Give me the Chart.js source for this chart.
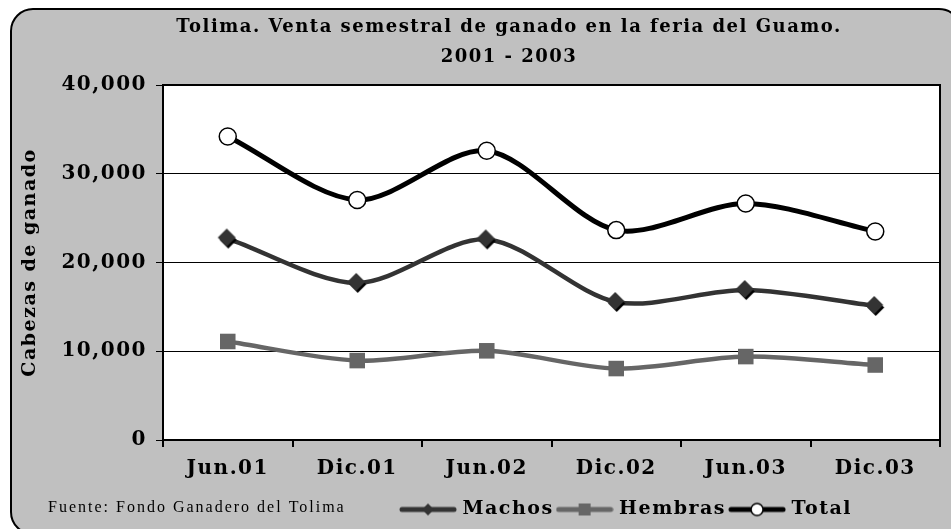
<!DOCTYPE html>
<html>
<head>
<meta charset="utf-8">
<script src="https://cdn.jsdelivr.net/npm/chart.js@4"></script>
<style>
  html, body { margin: 0; padding: 0; background: #fff; }
  #wrap { width: 951px; height: 529px; }
</style>
</head>
<body>
<div id="wrap"><canvas id="grafica"></canvas></div>
<script>
// Datos
const periodos = ['Jun.01', 'Dic.01', 'Jun.02', 'Dic.02', 'Jun.03', 'Dic.03'];
const machos = [22700, 17700, 22600, 15550, 16900, 15100];
const hembras = [11100, 8950, 10050, 8050, 9400, 8450];
const total = [34200, 27050, 32600, 23650, 26650, 23500];
const tituloLineas = ['Tolima. Venta semestral de ganado en la feria del Guamo.', '2001 - 2003'];
const fuente = 'Fuente: Fondo Ganadero del Tolima';

const serif = "'DejaVu Serif', serif";

// Rombo con sombra negra (marcador de Machos)
const rombo = (() => {
  const c = document.createElement('canvas');
  c.width = 24; c.height = 24;
  const g = c.getContext('2d');
  const dibuja = (cx, cy, r, color) => {
    g.fillStyle = color;
    g.beginPath(); g.moveTo(cx, cy - r); g.lineTo(cx + r, cy); g.lineTo(cx, cy + r); g.lineTo(cx - r, cy); g.closePath(); g.fill();
  };
  dibuja(12.5, 13.5, 8.5, '#000000');
  dibuja(11, 11, 9, '#333333');
  return c;
})();

// Muestra de leyenda: linea con marcador
const muestra = (color, ancho, marcador) => {
  const c = document.createElement('canvas');
  c.width = 58; c.height = 20;
  const g = c.getContext('2d');
  g.strokeStyle = color; g.lineWidth = ancho; g.lineCap = 'round';
  g.beginPath(); g.moveTo(3, 10); g.lineTo(55, 10); g.stroke();
  marcador(g);
  return c;
};

const legMachos = muestra('#333333', 5, (g) => {
  g.fillStyle = '#333333';
  g.beginPath(); g.moveTo(29, 4); g.lineTo(35, 10); g.lineTo(29, 16); g.lineTo(23, 10); g.closePath(); g.fill();
});
const legHembras = muestra('#666666', 5, (g) => {
  g.fillStyle = '#666666';
  g.fillRect(23, 4, 12, 12);
});
const legTotal = muestra('#000000', 5, (g) => {
  g.fillStyle = '#ffffff'; g.strokeStyle = '#000'; g.lineWidth = 1.5;
  g.beginPath(); g.arc(29, 10, 6, 0, Math.PI * 2); g.fill(); g.stroke();
});

// Espaciado entre letras como en la original
const espaciar = (chart) => { chart.ctx.letterSpacing = '1.5px'; };

// Fondo con borde redondeado, marco del area y texto de fuente
const marco = {
  id: 'marco',
  afterInit: espaciar,
  beforeUpdate: espaciar,
  beforeDraw(chart) {
    espaciar(chart);
    const ctx = chart.ctx;
    ctx.save();
    ctx.fillStyle = '#ffffff';
    ctx.fillRect(0, 0, chart.width, chart.height);
    ctx.beginPath();
    ctx.roundRect(11, 9, 950, 525, 22);
    ctx.fillStyle = '#c0c0c0';
    ctx.fill();
    ctx.lineWidth = 2;
    ctx.strokeStyle = '#000';
    ctx.stroke();
    const a = chart.chartArea;
    ctx.fillStyle = '#ffffff';
    ctx.fillRect(a.left, a.top, a.right - a.left, a.bottom - a.top);
    ctx.restore();
  },
  afterDatasetsDraw(chart) {
    const ctx = chart.ctx;
    const a = chart.chartArea;
    ctx.save();
    ctx.strokeStyle = '#000';
    ctx.lineWidth = 2;
    ctx.beginPath();
    ctx.moveTo(a.left, a.top); ctx.lineTo(a.right, a.top); ctx.lineTo(a.right, a.bottom);
    ctx.stroke();
    ctx.restore();
  },
  afterDraw(chart) {
    const ctx = chart.ctx;
    ctx.save();
    ctx.font = "16px 'Liberation Serif', serif";
    ctx.letterSpacing = '2px';
    ctx.fillStyle = '#000';
    ctx.textBaseline = 'middle';
    ctx.fillText(fuente, 48, 508);
    ctx.restore();
  },
  afterLayout(chart) {
    // la leyenda y el titulo no estan centrados en la original
    const lg = chart.legend;
    const w = lg.right - lg.left;
    lg.left = 397;
    lg.right = 397 + w;
    chart.titleBlock.left += 33;
    chart.titleBlock.right += 33;
  }
};

const config = {
  type: 'line',
  data: {
    labels: periodos,
    datasets: [
      {
        label: 'Machos',
        data: machos,
        borderColor: '#333333',
        backgroundColor: '#333333',
        borderWidth: 4.5,
        pointStyle: rombo,
        pointRadius: 9,
        pointBorderWidth: 0,
        tension: 0.3,
        legendImg: legMachos
      },
      {
        label: 'Hembras',
        data: hembras,
        borderColor: '#666666',
        backgroundColor: '#666666',
        borderWidth: 4.5,
        pointStyle: 'rect',
        pointRadius: 11,
        pointBorderWidth: 0,
        tension: 0.3,
        legendImg: legHembras
      },
      {
        label: 'Total',
        data: total,
        borderColor: '#000000',
        backgroundColor: '#ffffff',
        borderWidth: 5,
        pointStyle: 'circle',
        pointRadius: 8.5,
        pointBorderWidth: 1.5,
        pointBorderColor: '#000000',
        tension: 0.3,
        legendImg: legTotal
      }
    ]
  },
  options: {
    responsive: true,
    maintainAspectRatio: false,
    animation: false,
    layout: { padding: { left: 12, right: 11, top: 8, bottom: 0 } },
    plugins: {
      tooltip: { enabled: false },
      title: {
        display: true,
        text: tituloLineas,
        color: '#000',
        font: { family: serif, size: 18, weight: 'bold', lineHeight: 1.667 },
        padding: { top: 4, bottom: 13 }
      },
      legend: {
        position: 'bottom',
        align: 'start',
        labels: {
          usePointStyle: true,
          pointStyleWidth: 50,
          boxHeight: 20,
          padding: 6,
          color: '#000',
          font: { family: serif, size: 19, weight: 'bold' },
          generateLabels: (chart) => chart.data.datasets.map((ds, i) => ({
            text: ds.label,
            pointStyle: ds.legendImg,
            datasetIndex: i,
            fontColor: '#000',
            lineWidth: 0,
            hidden: false
          }))
        }
      }
    },
    scales: {
      x: {
        offset: true,
        grid: { display: true, offset: true, drawOnChartArea: false, color: '#000', lineWidth: 2, tickLength: 7 },
        border: { display: true, color: '#000', width: 2 },
        ticks: { color: '#000', font: { family: serif, size: 20, weight: 'bold' }, padding: 10, maxRotation: 0 },
        afterFit: (s) => { s.height = 54; }
      },
      y: {
        min: 0,
        max: 40000,
        ticks: {
          stepSize: 10000,
          color: '#000',
          font: { family: serif, size: 20, weight: 'bold' },
          padding: 9,
          callback: (v) => v.toLocaleString('en-US')
        },
        grid: { color: '#000', lineWidth: 1, tickLength: 7, drawTicks: true },
        border: { display: true, color: '#000', width: 2 },
        title: {
          display: true,
          text: 'Cabezas de ganado',
          color: '#000',
          font: { family: serif, size: 19, weight: 'bold' },
          padding: { top: 7, bottom: 0 }
        },
        afterFit: (s) => { s.width = 151; }
      }
    }
  },
  plugins: [marco]
};

new Chart(document.getElementById('grafica'), config);
</script>
</body>
</html>
